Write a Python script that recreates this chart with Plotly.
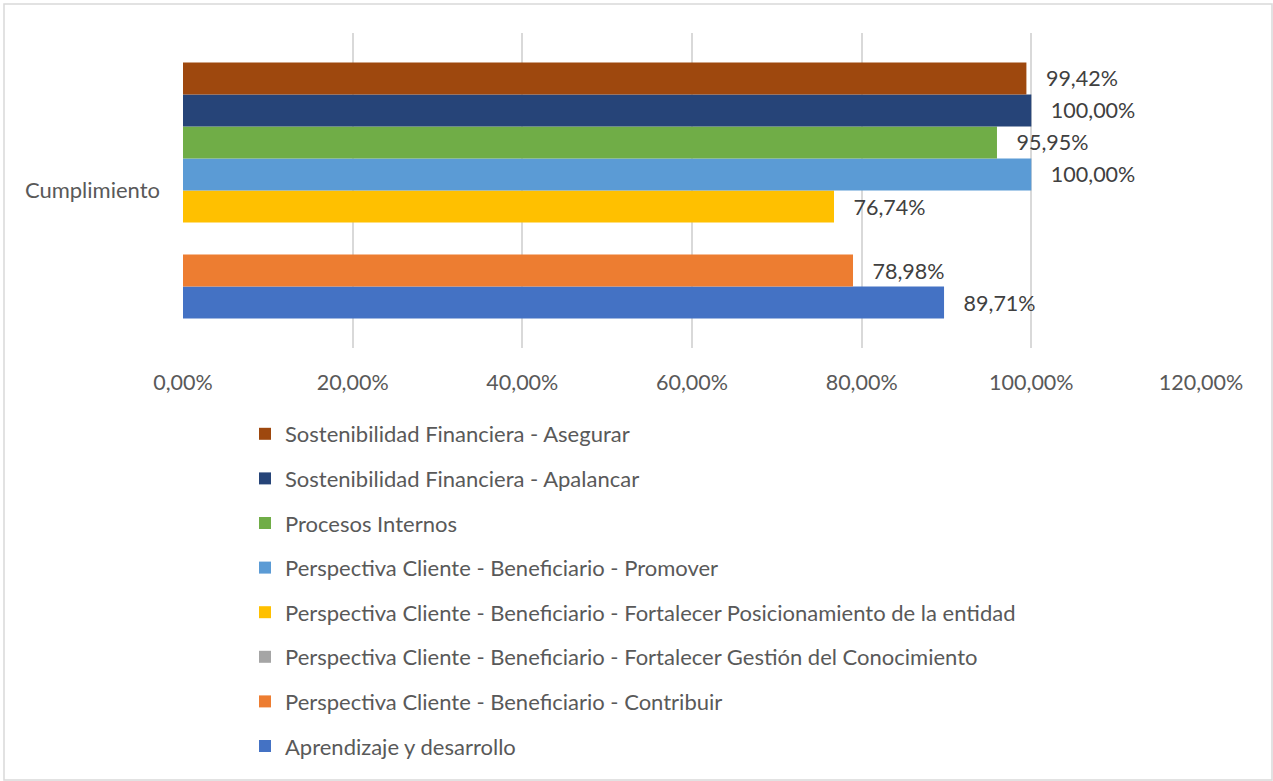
import plotly.graph_objects as go

category = ["Cumplimiento"]
series_names = [
    "Aprendizaje y desarrollo",
    "Perspectiva Cliente - Beneficiario - Contribuir",
    "Perspectiva Cliente - Beneficiario - Fortalecer Gestión del Conocimiento",
    "Perspectiva Cliente - Beneficiario - Fortalecer Posicionamiento de la entidad",
    "Perspectiva Cliente - Beneficiario - Promover",
    "Procesos Internos",
    "Sostenibilidad Financiera - Apalancar",
    "Sostenibilidad Financiera - Asegurar",
]
series_values = [0.8971, 0.7898, None, 0.7674, 1.0, 0.9595, 1.0, 0.9942]
series_colors = ["#4472C4", "#ED7D31", "#A5A5A5", "#FFC000", "#5B9BD5", "#70AD47", "#264478", "#9E480E"]
tick_values = [0, 0.2, 0.4, 0.6, 0.8, 1.0, 1.2]

W, H = 1273, 781
L, R, T, B = 183, 1201, 33, 348  # plot area in px

fig = go.Figure()
for i, (name, val, col) in enumerate(zip(series_names, series_values, series_colors)):
    fig.add_trace(go.Bar(
        y=category, x=[val], name=name, orientation="h",
        marker=dict(color=col, line=dict(width=0)),
        texttemplate="\u00a0\u00a0\u00a0%{x:.2%}",
        textposition="outside", cliponaxis=False,
        textfont=dict(size=21.5, color="#404040", family="Lato"),
        legendgroup=f"g{i}",
        legendrank=100 - i,
    ))

def px_x(p):
    return (p - L) / (R - L)

def px_y(p):
    return (B - p) / (B - T)

fig.update_layout(
    width=W, height=H,
    margin=dict(l=L, r=W - R, t=T, b=H - B, autoexpand=False),
    barmode="group", bargap=0.187,
    separators=",.",
    paper_bgcolor="white", plot_bgcolor="white",
    font=dict(family="Lato", size=22, color="#595959"),
    xaxis=dict(range=[0, 1.2], tickvals=tick_values, tickformat=".2%",
               showgrid=True, gridcolor="#D9D9D9", gridwidth=1.5,
               zeroline=False, showline=False, ticks="",
               tickfont=dict(size=21.5, color="#595959"), ticklabelstandoff=19),
    yaxis=dict(showgrid=False, zeroline=False, showline=False, ticks="",
               tickfont=dict(size=22, color="#595959"), ticklabelstandoff=22),
    legend=dict(orientation="v", traceorder="grouped", tracegroupgap=13,
                xref="container", yref="container", x=245 / W, y=1 - 413 / H,
                xanchor="left", yanchor="top",
                font=dict(size=22, color="#595959", family="Lato"),
                bgcolor="rgba(0,0,0,0)"),
    showlegend=True,
    shapes=[dict(type="rect", xref="paper", yref="paper",
                 x0=px_x(4), x1=px_x(1272), y0=px_y(780), y1=px_y(4),
                 line=dict(color="#D9D9D9", width=1.5), layer="below")],
)

fig.write_html("out.html", config={"displayModeBar": False},
               post_script="document.body.style.margin='0px';")
